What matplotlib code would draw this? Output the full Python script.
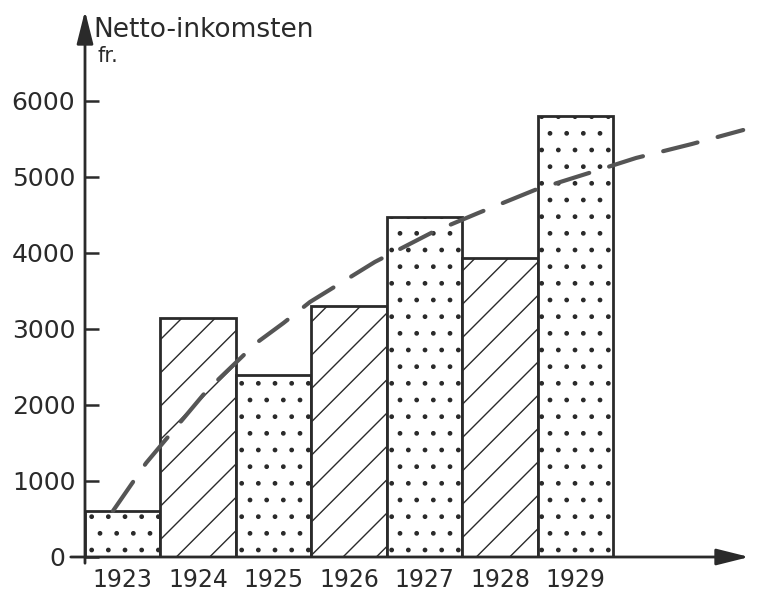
import matplotlib.pyplot as plt
from matplotlib.patches import FancyArrowPatch
from matplotlib.transforms import ScaledTranslation

plt.rcParams.update({
    'font.family': ['DejaVu Sans'],
    'hatch.linewidth': 1.0,
})

# data
years = [1923, 1924, 1925, 1926, 1927, 1928, 1929]
income = [600, 3150, 2400, 3300, 4480, 3930, 5800]
hatches = ['.', '/', '.', '/', '.', '/', '.']
year_labels = ['1923', '1924', '1925', '1926', '1927', '1928', '1929']

# dashed trend line, points read along the dashes
trend_x = [1922.87, 1923.31, 1924.12, 1924.77, 1925.13, 1925.48, 1926.34,
           1927.11, 1927.71, 1928.46, 1929.22, 1929.80, 1930.54, 1931.22]
trend_y = [605, 1237, 2197, 2816, 3079, 3355, 3882,
           4276, 4526, 4829, 5066, 5250, 5434, 5618]

yticks = [0, 1000, 2000, 3000, 4000, 5000, 6000]

INK = '#2a2a2a'

fig = plt.figure(figsize=(7.59, 5.97), dpi=100)
W, H = 759, 597
# axes: y axis at px 85, x axis at px 557
ax = fig.add_axes([85 / W, (H - 557) / H, (750 - 85) / W, (557 - 10) / H])
ax.set_xlim(1922.5, 1931.31)
ax.set_ylim(0, 7197)

ax.bar(years, income, width=1.0, color='white', edgecolor=INK,
       linewidth=2.0, hatch=hatches, zorder=2)

ax.plot(trend_x, trend_y, color='#555555', lw=3.0, ls=(0, (8.5, 5.0)),
        dash_capstyle='round', zorder=3)

for s in ax.spines.values():
    s.set_visible(False)

ax.set_yticks(yticks)
ax.set_yticklabels([str(v) for v in yticks])
ax.tick_params(axis='y', direction='in', length=10, width=1.8, color=INK,
               labelsize=18, pad=7, labelcolor=INK)
ax.set_xticks(years)
ax.set_xticklabels(year_labels)
ax.tick_params(axis='x', length=0, labelsize=17, pad=8, labelcolor=INK)

# the "0" sits left of where the x axis starts
zero = ax.get_yticklabels()[0]
zero.set_transform(zero.get_transform() + ScaledTranslation(-10 / 100, 0, fig.dpi_scale_trans))


def px(x, y):
    return (x / W, 1 - y / H)


# axis lines with arrows (figure pixel coordinates)
fig.add_artist(FancyArrowPatch(
    px(85, 566), px(85, 8), transform=fig.transFigure,
    arrowstyle='-|>,head_length=10,head_width=2.5', color=INK, lw=2.0,
    mutation_scale=2.0, zorder=5))
fig.add_artist(FancyArrowPatch(
    px(68, 557), px(752, 557), transform=fig.transFigure,
    arrowstyle='-|>,head_length=10,head_width=2.5', color=INK, lw=2.0,
    mutation_scale=2.0, zorder=5))

fig.text(93 / W, 1 - 30 / H, 'Netto-inkomsten', fontsize=19, color=INK,
         ha='left', va='center')
fig.text(97 / W, 1 - 56 / H, 'fr.', fontsize=15, color=INK,
         ha='left', va='center')

fig.savefig('out.png', dpi=100)
